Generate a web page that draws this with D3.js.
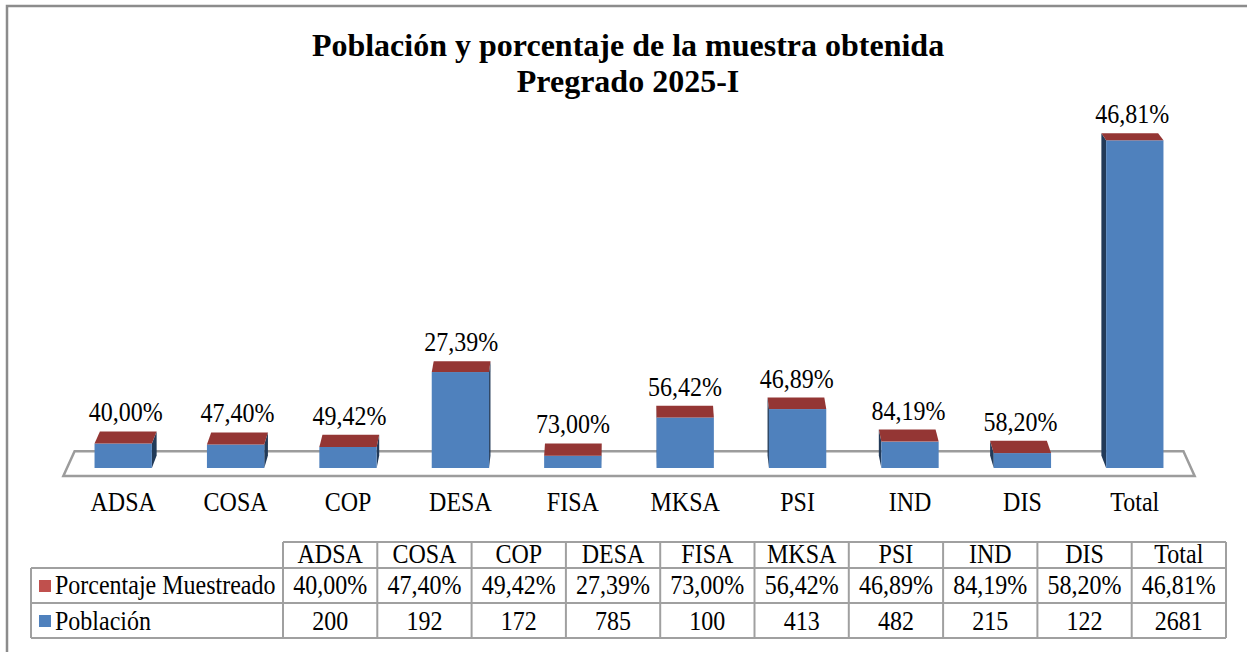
<!DOCTYPE html>
<html>
<head>
<meta charset="utf-8">
<script src="https://cdn.jsdelivr.net/npm/d3@7"></script>
<style>
  html, body { margin: 0; padding: 0; background: #fff; }
  svg { display: block; font-family: "Liberation Serif", "Times New Roman", serif; }
</style>
</head>
<body>
<svg id="chart" width="1247" height="652"></svg>
<script>
// --- datos ---
const categories = ["ADSA", "COSA", "COP", "DESA", "FISA", "MKSA", "PSI", "IND", "DIS", "Total"];
const poblacion = [200, 192, 172, 785, 100, 413, 482, 215, 122, 2681];
const porcentaje = [0.4000, 0.4740, 0.4942, 0.2739, 0.7300, 0.5642, 0.4689, 0.8419, 0.5820, 0.4681];
const titleLines = ["Población y porcentaje de la muestra obtenida", "Pregrado 2025-I"];
const seriesNames = ["Porcentaje Muestreado", "Población"];

const locale = d3.formatLocale({ decimal: ",", thousands: ".", grouping: [3], currency: ["", ""] });
const fmtPct = locale.format(".2%");

const svg = d3.select("#chart");
const base = 468;
const STRETCH = 1.17; // el texto del original está algo estirado en vertical

// texto con estiramiento vertical
function label(parent, tx, ty, str, size, anchor, stretch) {
    return parent.append("text")
        .attr("transform", `translate(${tx},${ty}) scale(1,${stretch || STRETCH})`)
        .attr("text-anchor", anchor || "middle")
        .attr("font-size", size)
        .text(str);
}

const x = d3.scaleBand().domain(categories).range([67, 1191]).paddingInner(0.49).paddingOuter(0.245);
const y = d3.scaleLinear().domain([0, 2700]).range([base, 138]);

// proyección 3D sencilla
const VX = 630, VY = -287, KX = 0.01, KY = 0.0165;
const proj = (px, py, d) => [px + (VX - px) * KX * d, py - (py - VY) * KY * d];

// borde exterior
svg.append("path")
    .attr("d", "M7,652 V6 H1247")
    .attr("fill", "none")
    .attr("stroke", "#8c8c8c")
    .attr("stroke-width", 2.5);

// título
titleLines.forEach((t, i) => {
    label(svg, 628, 56 + i * 36, t, 32, "middle", 1).attr("font-weight", "bold");
});

// piso
const x0r = x.range()[0], x1r = x.range()[1];
const floorPts = [proj(x0r, base, -0.65), proj(x1r, base, -0.65), proj(x1r, base, 1.35), proj(x0r, base, 1.35)];
svg.append("polygon")
    .attr("points", floorPts.map(p => p.join(",")).join(" "))
    .attr("fill", "none")
    .attr("stroke", "#9c9c9c")
    .attr("stroke-width", 2.5);

// barras
const bars = svg.append("g");
categories.forEach((c, i) => {
    const bx0 = x(c), bx1 = x(c) + x.bandwidth();
    const yPop = y(poblacion[i]);
    const yTop = y(poblacion[i] + porcentaje[i]);
    const g = bars.append("g");

    // cara lateral
    const sx = bx1 < VX ? bx1 : bx0;
    const side = [[sx, yTop], proj(sx, yTop, 1), proj(sx, base, 1), [sx, base]];
    g.append("polygon")
        .attr("points", side.map(p => p.join(",")).join(" "))
        .attr("fill", "#223a58");

    // cara frontal
    g.append("rect")
        .attr("x", bx0).attr("y", yPop)
        .attr("width", x.bandwidth()).attr("height", base - yPop)
        .attr("fill", "#4f81bd");
    g.append("rect")
        .attr("x", bx0).attr("y", yTop)
        .attr("width", x.bandwidth()).attr("height", yPop - yTop)
        .attr("fill", "#943634");

    // cara superior
    const top = [[bx0, yTop], [bx1, yTop], proj(bx1, yTop, 1), proj(bx0, yTop, 1)];
    g.append("polygon")
        .attr("points", top.map(p => p.join(",")).join(" "))
        .attr("fill", "#943634");

    // etiqueta de porcentaje
    const back = proj((bx0 + bx1) / 2, yTop, 1);
    label(g, ((bx0 + bx1) / 2 + back[0]) / 2, back[1] - 10, fmtPct(porcentaje[i]), 24);
});

// etiquetas de categoría
const cats = svg.append("g");
categories.forEach(c => label(cats, x(c) + x.bandwidth() / 2, 511, c, 24));

// --- tabla de datos ---
const tx = d3.scaleBand().domain(categories).range([283, 1226]);
const rowY = [542, 568, 603, 638];
const legendLeft = 31;
const lineColor = "#a0a0a0";
const table = svg.append("g");

// líneas horizontales
[[tx.range()[0], rowY[0]], [legendLeft, rowY[1]], [legendLeft, rowY[2]], [legendLeft, rowY[3]]].forEach(([lx, ly]) => {
    table.append("line")
        .attr("x1", lx).attr("x2", tx.range()[1])
        .attr("y1", ly).attr("y2", ly)
        .attr("stroke", lineColor).attr("stroke-width", 2);
});
// líneas verticales
table.append("line")
    .attr("x1", legendLeft).attr("x2", legendLeft)
    .attr("y1", rowY[1]).attr("y2", rowY[3])
    .attr("stroke", lineColor).attr("stroke-width", 2);
categories.concat(["_end"]).forEach((c, i) => {
    const lx = i < categories.length ? tx(c) : tx.range()[1];
    table.append("line")
        .attr("x1", lx).attr("x2", lx)
        .attr("y1", rowY[0]).attr("y2", rowY[3])
        .attr("stroke", lineColor).attr("stroke-width", 2);
});

// encabezados
categories.forEach(c => label(table, tx(c) + tx.bandwidth() / 2, 563, c, 24));

// filas
const rows = [
    { name: seriesNames[0], color: "#c0504d", values: porcentaje.map(fmtPct), yb: 594, sy: 580 },
    { name: seriesNames[1], color: "#4f81bd", values: poblacion.map(String), yb: 630, sy: 615 }
];
rows.forEach(r => {
    table.append("rect")
        .attr("x", 39).attr("y", r.sy)
        .attr("width", 12).attr("height", 12)
        .attr("fill", r.color);
    label(table, 55, r.yb, r.name, 24, "start");
    r.values.forEach((v, i) => label(table, tx(categories[i]) + tx.bandwidth() / 2, r.yb, v, 24));
});
</script>
</body>
</html>
